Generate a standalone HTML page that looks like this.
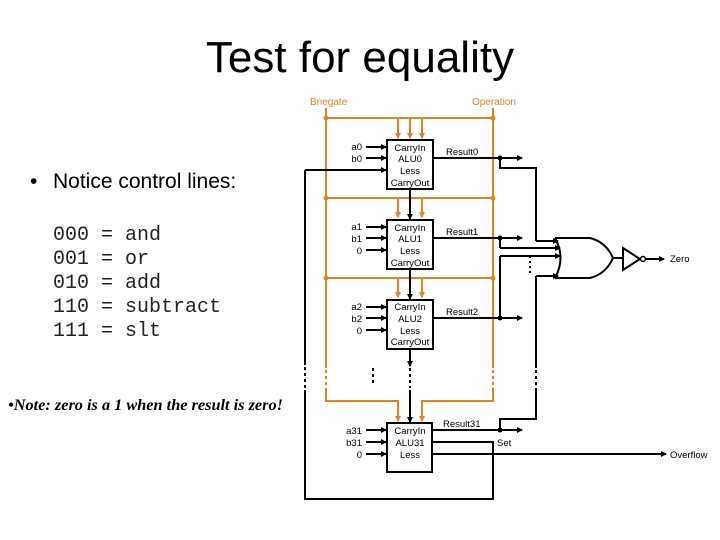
<!DOCTYPE html>
<html><head><meta charset="utf-8"><style>
body{margin:0;background:#fff;width:720px;height:540px;overflow:hidden}
svg{display:block}
</style></head><body>
<svg width="720" height="540" xmlns="http://www.w3.org/2000/svg" font-family="Liberation Sans, sans-serif">
<defs>
<marker id="ab" markerWidth="6" markerHeight="6" refX="5" refY="3" orient="auto" markerUnits="userSpaceOnUse"><path d="M0,0 L6,3 L0,6 z" fill="#000"/></marker>
</defs>
<text x="360" y="72" font-size="44" text-anchor="middle">Test for equality</text>
<text x="30" y="188" font-size="21">•</text>
<text x="53" y="188" font-size="21">Notice control lines:</text>
<g font-family="Liberation Mono, monospace" font-size="20" fill="#222">
<text x="53" y="240">000 = and</text>
<text x="53" y="264">001 = or</text>
<text x="53" y="288">010 = add</text>
<text x="53" y="312">110 = subtract</text>
<text x="53" y="336">111 = slt</text>
</g>
<text x="8" y="410" font-family="Liberation Serif, serif" font-size="16" font-style="italic" font-weight="bold" textLength="275" lengthAdjust="spacingAndGlyphs">•Note:  zero is a 1 when the result is zero!</text>

<g font-size="10" fill="#d9832b">
<text x="310" y="105">Bnegate</text>
<text x="472" y="105">Operation</text>
</g>
<g stroke="#d9832b" stroke-width="2" fill="none">
<path d="M326 108 V368 M326 388 V401 H398 V421" />
<path d="M493 108 V368 M493 388 V401 H422 V421"/>
<path d="M326 118 H493 M326 198 H493 M326 278 H493"/>
<path d="M398 118 V138 M410 118 V138 M422 118 V138 M398 198 V217 M422 198 V217 M398 278 V297 M422 278 V297"/>
<path d="M326 370 V386 M493 370 V386" stroke-dasharray="3,3"/>
</g>
<g fill="#d9832b">
<circle cx="326" cy="118" r="2.5"/><circle cx="493" cy="118" r="2.5"/>
<circle cx="326" cy="198" r="2.5"/><circle cx="493" cy="198" r="2.5"/>
<circle cx="326" cy="278" r="2.5"/><circle cx="493" cy="278" r="2.5"/>
<path d="M395 133 L401 133 L398 139z M407 133 L413 133 L410 139z M419 133 L425 133 L422 139z"/>
<path d="M395 212 L401 212 L398 218z M419 212 L425 212 L422 218z"/>
<path d="M395 292 L401 292 L398 298z M419 292 L425 292 L422 298z"/>
<path d="M395 416 L401 416 L398 422z M419 416 L425 416 L422 422z"/>
</g>

<g stroke="#000" stroke-width="2" fill="#fff">
<rect x="387" y="140" width="46" height="49"/>
<rect x="387" y="220" width="46" height="49"/>
<rect x="387" y="300" width="46" height="49"/>
<rect x="387" y="423" width="45" height="49"/>
</g>
<g font-size="9.5" text-anchor="middle">
<text x="410" y="151">CarryIn</text><text x="410" y="162">ALU0</text><text x="410" y="174">Less</text><text x="410" y="186">CarryOut</text>
<text x="410" y="231">CarryIn</text><text x="410" y="242">ALU1</text><text x="410" y="254">Less</text><text x="410" y="266">CarryOut</text>
<text x="410" y="310">CarryIn</text><text x="410" y="322">ALU2</text><text x="410" y="334">Less</text><text x="410" y="345">CarryOut</text>
<text x="410" y="434">CarryIn</text><text x="410" y="446">ALU31</text><text x="410" y="458">Less</text>
</g>
<g font-size="9.5" text-anchor="end">
<text x="362" y="150">a0</text><text x="362" y="162">b0</text>
<text x="362" y="230">a1</text><text x="362" y="242">b1</text><text x="362" y="254">0</text>
<text x="362" y="310">a2</text><text x="362" y="322">b2</text><text x="362" y="334">0</text>
<text x="362" y="434">a31</text><text x="362" y="446">b31</text><text x="362" y="458">0</text>
</g>
<g font-size="9.5">
<text x="446" y="155">Result0</text><text x="446" y="235">Result1</text><text x="446" y="315">Result2</text>
<text x="443" y="427">Result31</text><text x="497" y="446">Set</text>
<text x="670" y="262">Zero</text><text x="670" y="458">Overflow</text>
</g>
<g stroke="#000" stroke-width="2" fill="none" marker-end="url(#ab)">
<path d="M366 147 H386"/><path d="M366 158 H386"/><path d="M305 170 H386"/>
<path d="M366 227 H386"/><path d="M366 238 H386"/><path d="M366 250 H386"/>
<path d="M366 307 H386"/><path d="M366 318 H386"/><path d="M366 330 H386"/>
<path d="M366 430 H386"/><path d="M366 442 H386"/><path d="M366 454 H386"/>
<path d="M410 189 V219"/><path d="M410 269 V299"/><path d="M410 349 V366"/><path d="M410 390 V422"/>
<path d="M433 158 H522"/><path d="M433 238 H522"/><path d="M433 318 H522"/><path d="M432 430 H522"/>
<path d="M432 454 H666"/>
<path d="M536 241 H558"/><path d="M500 248 H560"/><path d="M500 256 H560"/><path d="M536 276 H558"/>
<path d="M643 259 H664"/>
</g>
<g stroke="#000" stroke-width="2" fill="none">
<path d="M305 170 V365 M305 390 V499 H493 V442 H432"/>
<path d="M500 158 V168 H536 V241"/>
<path d="M500 238 V248"/>
<path d="M500 256 V318"/>
<path d="M536 276 V368 M536 388 V419 H500 V430"/>
<path d="M555 238 Q566 258 555 278"/>
<path d="M555 238 H590 Q606 242 613 258 Q606 274 590 278 H555"/>
<path d="M613 258 H623"/>
<path d="M623 248 L640 259 L623 270 Z"/>
<path d="M305 367 V388 M536 370 V386 M410 368 V388 M373 368 V386" stroke-dasharray="3,3"/>
<path d="M530 256 V274" stroke-dasharray="2,3"/>
</g>
<circle cx="643" cy="259" r="2.5" fill="#fff" stroke="#000" stroke-width="1.5"/>
<g fill="#000">
<circle cx="500" cy="158" r="2.5"/><circle cx="500" cy="238" r="2.5"/><circle cx="500" cy="318" r="2.5"/><circle cx="500" cy="430" r="2.5"/>
</g>
</svg>
</body></html>
